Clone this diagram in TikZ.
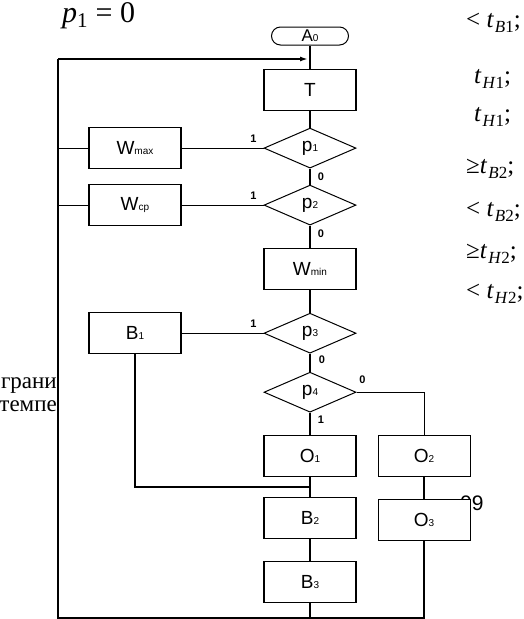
\documentclass[tikz,border=0pt]{standalone}
\usepackage{fontspec}
\setmainfont{Liberation Serif}
\newfontfamily\boxfont{Liberation Sans}
\usetikzlibrary{positioning,arrows.meta,shapes.geometric,calc}

% small index written on the baseline, as in the scheme
\newcommand{\lo}[1]{{\fontsize{10}{10}\selectfont #1}}
% t with a lowered index
\newcommand{\tsub}[2]{\textit{t}\kern1pt\raisebox{-5pt}{\fontsize{17}{17}\selectfont\textit{#1}#2}}

\begin{document}
\begin{tikzpicture}[
  x=1pt, y=-1pt,
  blk/.style={draw, line width=1.1pt, fill=white, minimum width=92pt, minimum height=41pt, inner sep=0pt,
              font=\boxfont\fontsize{19}{21}\selectfont},
  dec/.style={diamond, aspect=2.3, draw, line width=1pt, fill=white, minimum width=92pt, minimum height=40pt, inner sep=0pt,
              font=\boxfont\fontsize{19}{21}\selectfont},
  term/.style={draw, line width=1pt, fill=white, rounded corners=9pt, minimum width=77pt, minimum height=18pt, inner sep=0pt,
              font=\boxfont\fontsize{17}{19}\selectfont},
  main/.style={line width=1.6pt},
  thin/.style={line width=0.9pt},
  >={Latex[length=8pt,width=5pt]},
  lbl/.style={font=\boxfont\bfseries\fontsize{11}{12}\selectfont, inner sep=1pt},
  side/.style={font=\fontsize{25}{27}\selectfont, anchor=base west, inner sep=0pt}
]
\useasboundingbox (0,0) rectangle (524,619);

% ---------------------------------------------------------------- page text round the scheme
\node[side, font=\fontsize{30}{32}\selectfont] (ptop) at (62,22) {\textit{p}\textsubscript{1} = 0};
\node[side] (n1) at (466,27) {< \tsub{B}{1};};
\node[side] (n2) at (474,83) {\tsub{H}{1};};
\node[side] (n3) at (474,121) {\tsub{H}{1};};
\node[side] (n4) at (466,173) {≥\tsub{B}{2};};
\node[side] (n5) at (466,216) {< \tsub{B}{2};};
\node[side] (n6) at (466,258) {≥\tsub{H}{2};};
\node[side] (n7) at (466,298) {< \tsub{H}{2};};
\node[side, font=\fontsize{23}{25}\selectfont, anchor=base east] (w1) at (57,388) {грани};
\node[side, font=\fontsize{23}{25}\selectfont, anchor=base east] (w2) at (57,411) {темпе};
\node[side, font=\boxfont\fontsize{21}{23}\selectfont] (pg) at (460,510) {09};

% ---------------------------------------------------------------- main column
\node[term] (a0) at (310,36) {A\lo{0}};
\node[blk, below=23pt of a0] (t) {T};
\node[dec, below=17pt of t] (p1) {p\lo{1}};
\node[dec, below=16pt of p1] (p2) {p\lo{2}};
\node[blk, below=22pt of p2] (wmin) {W\lo{min}};
\node[dec, below=23pt of wmin] (p3) {p\lo{3}};
\node[dec, below=18pt of p3] (p4) {p\lo{4}};
\node[blk, below=22pt of p4] (o1) {O\lo{1}};
\node[blk, below=20pt of o1] (b2) {B\lo{2}};
\node[blk, below=22pt of b2] (b3) {B\lo{3}};

% ---------------------------------------------------------------- side boxes
\node[blk, left=82pt of p1] (wmax) {W\lo{max}};
\node[blk, left=82pt of p2] (wcp) {W\lo{cp}};
\node[blk, left=82pt of p3] (b1) {B\lo{1}};
\node[blk, right=21pt of o1] (o2) {O\lo{2}};
\node[blk, below=22pt of o2] (o3) {O\lo{3}};

% ---------------------------------------------------------------- connectors
\coordinate (ltop) at (58,59);
\coordinate (lbot) at (58,618);
\coordinate (jn) at ($(o1.south)!0.5!(b2.north)$);
\draw[main] (a0) -- (t) -- (p1) -- (p2) -- (wmin) -- (p3) -- (p4) -- (o1) -- (b2) -- (b3) -- (b3 |- lbot);
\draw[main] (ltop) -- (lbot) -- (o3 |- lbot) -- (o3);
\draw[main, ->, shorten >=2pt] (ltop) -- (ltop -| a0);
\draw[main] (o3) -- (o2);
\draw[thin] (p4) -| (o2);
\draw[thin] (wmax) -- (p1);
\draw[thin] (wmax.west) -- (wmax.west -| ltop);
\draw[thin] (wcp) -- (p2);
\draw[thin] (wcp.west) -- (wcp.west -| ltop);
\draw[thin] (b1) -- (p3);
\draw[main] (b1) |- (jn);

% branch marks
\node[lbl] at ([xshift=-10pt, yshift=9pt]p1.west) {1};
\node[lbl] at ([xshift=11pt, yshift=-8pt]p1.south) {0};
\node[lbl] at ([xshift=-10pt, yshift=9pt]p2.west) {1};
\node[lbl] at ([xshift=11pt, yshift=-8pt]p2.south) {0};
\node[lbl] at ([xshift=-10pt, yshift=9pt]p3.west) {1};
\node[lbl] at ([xshift=12pt, yshift=-6pt]p3.south) {0};
\node[lbl] at ([xshift=6pt, yshift=12pt]p4.east) {0};
\node[lbl] at ([xshift=11pt, yshift=-7pt]p4.south) {1};
\end{tikzpicture}
\end{document}
